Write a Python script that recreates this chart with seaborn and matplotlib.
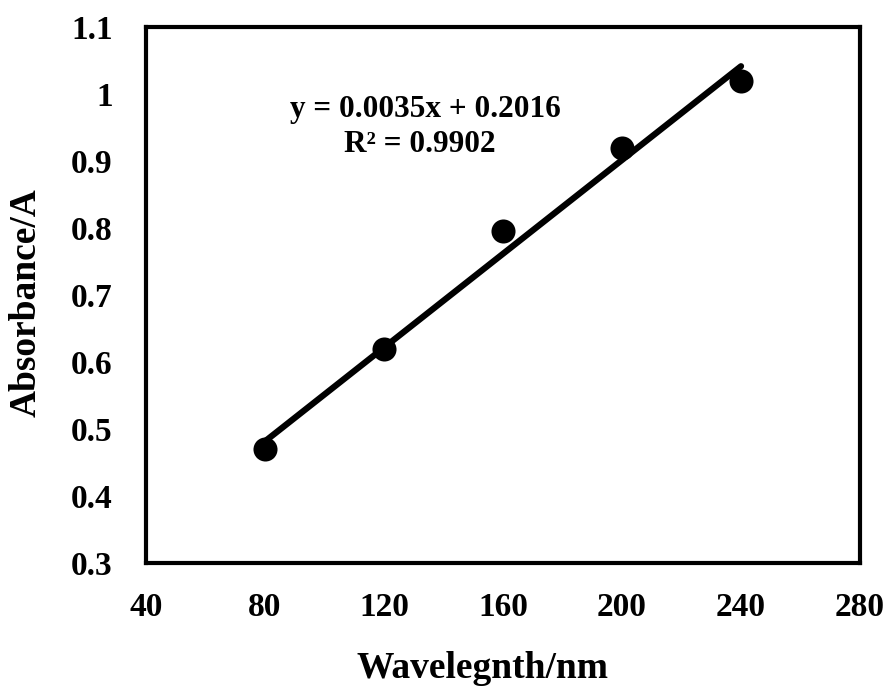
import matplotlib
matplotlib.use("Agg")
import matplotlib.pyplot as plt
import seaborn as sns
import numpy as np
import pandas as pd

# Calibration data
wavelength = [80, 120, 160, 200, 240]
absorbance = [0.47, 0.62, 0.795, 0.92, 1.02]
slope = 0.0035
intercept = 0.2016
r_squared = 0.9902
x_ticks = [40, 80, 120, 160, 200, 240, 280]
y_ticks = [0.3, 0.4, 0.5, 0.6, 0.7, 0.8, 0.9, 1.0, 1.1]
y_tick_labels = ["0.3", "0.4", "0.5", "0.6", "0.7", "0.8", "0.9", "1", "1.1"]

sns.set_theme(style="white", rc={"text.color": "black", "xtick.color": "black",
                                 "ytick.color": "black", "axes.labelcolor": "black"})
plt.rcParams["font.family"] = ["Liberation Serif", "DejaVu Serif"]
plt.rcParams["font.weight"] = "bold"

df = pd.DataFrame({"Wavelength": wavelength, "Absorbance": absorbance})
fit_x = np.array([wavelength[0], wavelength[-1]])
fit = pd.DataFrame({"Wavelength": fit_x, "Absorbance": slope * fit_x + intercept})

fig = plt.figure(figsize=(8.88, 6.95), dpi=100)
ax = fig.add_axes([0.1644, 0.19, 0.8041, 0.771])

sns.lineplot(data=fit, x="Wavelength", y="Absorbance", ax=ax,
             color="black", linewidth=4.5, zorder=2)
sns.scatterplot(data=df, x="Wavelength", y="Absorbance", ax=ax,
                color="black", s=300, edgecolor="black", linewidth=0, zorder=3)

ax.set_xlim(40, 280)
ax.set_ylim(0.3, 1.1)
ax.set_xticks(x_ticks)
ax.set_xticklabels([str(t) for t in x_ticks])
ax.set_yticks(y_ticks)
ax.set_yticklabels(y_tick_labels)
ax.tick_params(axis="x", length=0, labelsize=24, pad=21, labelcolor="black")
ax.tick_params(axis="y", length=0, labelsize=24, pad=24, labelcolor="black")
for lbl in ax.get_xticklabels() + ax.get_yticklabels():
    lbl.set_fontweight("bold")

ax.set_xlabel("")
ax.set_ylabel("")
fig.text(482 / 888, 1 - 668 / 695, "Wavelegnth/nm", fontsize=27,
         fontweight="bold", ha="center", va="center", color="black")
fig.text(26 / 888, 1 - 303 / 695, "Absorbance/A", fontsize=27,
         fontweight="bold", ha="center", va="center", rotation=90, color="black")

for sp in ax.spines.values():
    sp.set_color("black")
    sp.set_linewidth(3)

ax.text(134, 0.977, f"y = {slope}x + {intercept}",
        fontsize=22.5, fontweight="bold", ha="center", va="center", color="black")
ax.text(132, 0.924, f"R² = {r_squared}",
        fontsize=22.5, fontweight="bold", ha="center", va="center", color="black")

fig.savefig("out.png", dpi=100, facecolor="white")
